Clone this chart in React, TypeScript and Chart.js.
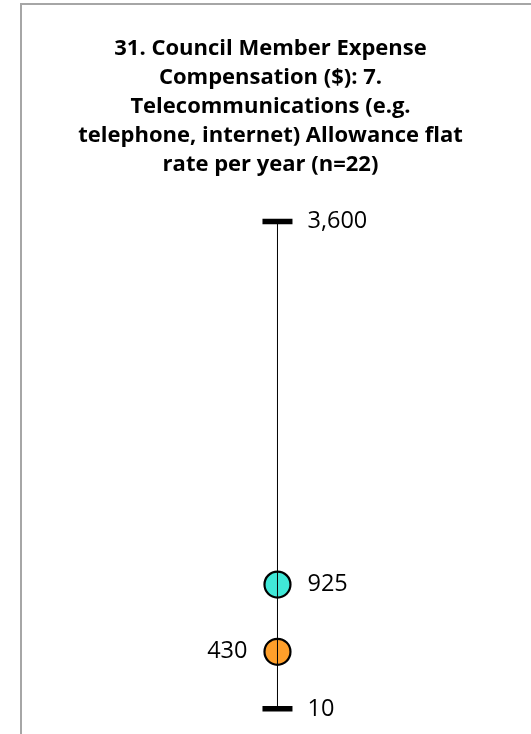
import React, { useEffect, useRef } from 'react';
import { Chart, registerables } from 'chart.js';

Chart.register(...registerables);

const titleLines = [
  '31. Council Member Expense',
  'Compensation ($): 7.',
  'Telecommunications (e.g.',
  'telephone, internet) Allowance flat',
  'rate per year (n=22)',
];
const categories = ['Telecommunications allowance'];
const minimumValues = [10];
const maximumValues = [3600];
const averageValues = [925];
const medianValues = [430];

const fmt = (v: number) => v.toLocaleString('en-US');

const valueLabels = {
  id: 'valueLabels',
  afterDatasetsDraw(chart: any) {
    const ctx = chart.ctx;
    ctx.save();
    ctx.font = '23.5px "Open Sans"';
    ctx.fillStyle = '#000000';
    ctx.textBaseline = 'middle';
    chart.data.datasets.forEach((ds: any, i: number) => {
      const side = ds.labelSide;
      if (!side) return;
      const meta = chart.getDatasetMeta(i);
      meta.data.forEach((pt: any, j: number) => {
        const raw = ds.data[j].y;
        ctx.textAlign = side === 'left' ? 'right' : 'left';
        ctx.fillText(fmt(raw), pt.x + (side === 'left' ? -30 : 30), pt.y);
      });
    });
    ctx.restore();
  },
};

export default function App() {
  const ref = useRef<HTMLCanvasElement | null>(null);
  useEffect(() => {
    if (!ref.current) return;
    const idx = categories.map((_, i) => i);
    const rangeData = idx.flatMap((i) => [
      { x: i, y: minimumValues[i] },
      { x: i, y: maximumValues[i] },
    ]);
    const chart = new Chart(ref.current, {
      type: 'scatter',
      data: {
        datasets: [
          {
            label: 'Range',
            data: rangeData,
            showLine: true,
            borderColor: '#000000',
            borderWidth: 1,
            pointRadius: 0,
            order: 0,
          } as any,
          {
            label: 'Average',
            data: idx.map((i) => ({ x: i, y: averageValues[i] })),
            pointRadius: 13,
            pointBackgroundColor: '#40E8D8',
            pointBorderColor: '#000000',
            pointBorderWidth: 2.2,
            labelSide: 'right',
            order: 1,
          } as any,
          {
            label: 'Median',
            data: idx.map((i) => ({ x: i, y: medianValues[i] })),
            pointRadius: 13,
            pointBackgroundColor: '#FF9F2A',
            pointBorderColor: '#000000',
            pointBorderWidth: 2.2,
            labelSide: 'left',
            order: 1,
          } as any,
          {
            label: 'Maximum',
            data: idx.map((i) => ({ x: i, y: maximumValues[i] })),
            pointStyle: 'line',
            pointRadius: 15,
            pointBorderColor: '#000000',
            pointBorderWidth: 5.5,
            labelSide: 'right',
            order: 2,
          } as any,
          {
            label: 'Minimum',
            data: idx.map((i) => ({ x: i, y: minimumValues[i] })),
            pointStyle: 'line',
            pointRadius: 15,
            pointBorderColor: '#000000',
            pointBorderWidth: 5.5,
            labelSide: 'right',
            order: 2,
          } as any,
        ],
      },
      options: {
        animation: false,
        responsive: false,
        layout: { padding: { left: 20, right: 10, top: 5, bottom: 10 } },
        plugins: {
          legend: { display: false },
          tooltip: { enabled: false },
          title: {
            display: true,
            text: titleLines,
            color: '#000000',
            font: { family: '"Open Sans"', size: 22, weight: 'bold', lineHeight: 1.318 },
            padding: { top: 29, bottom: 10 },
          },
        },
        scales: {
          x: { type: 'linear', display: false, min: -1, max: 0.9068 },
          y: { type: 'linear', display: false, min: -24.5, max: 3838.6 },
        },
      },
      plugins: [valueLabels],
    });
    return () => chart.destroy();
  }, []);

  return (
    <div style={{ position: 'fixed', left: 0, top: 0, width: 531, height: 734, overflow: 'hidden', background: '#ffffff' }}>
      <div style={{ position: 'absolute', left: 20, top: 3, width: 600, height: 800, border: '2px solid #A6A6A6' }} />
      <canvas ref={ref} width={531} height={734} style={{ position: 'absolute', left: 0, top: 0 }} />
    </div>
  );
}
